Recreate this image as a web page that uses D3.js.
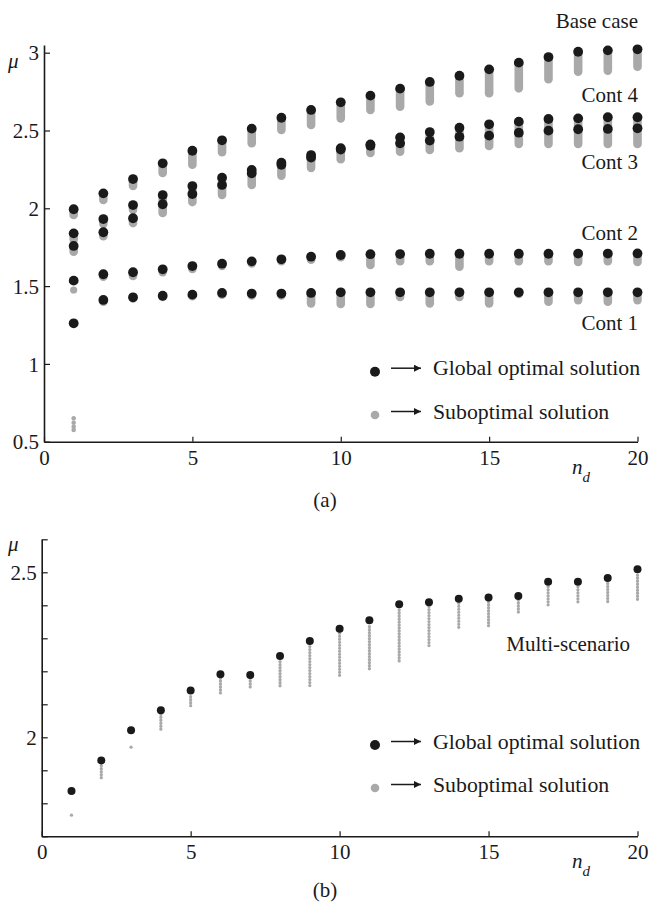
<!DOCTYPE html>
<html>
<head>
<meta charset="utf-8">
<script src="https://cdn.jsdelivr.net/npm/d3@7"></script>
<style>
  body { margin: 0; background: #fff; }
  svg text { font-family: "Liberation Serif", "Times New Roman", "DejaVu Serif", serif; fill: #1a1a1a; }
</style>
</head>
<body>
<div id="chart"></div>
<script>
// ==== Data ====
const nd = [1, 2, 3, 4, 5, 6, 7, 8, 9, 10, 11, 12, 13, 14, 15, 16, 17, 18, 19, 20];

// (a) global optimal values per contingency, and lowest suboptimal value below each
const baseCase    = [1.994, 2.096, 2.188, 2.289, 2.370, 2.437, 2.512, 2.582, 2.632, 2.681, 2.724, 2.769, 2.812, 2.852, 2.893, 2.936, 2.972, 3.006, 3.015, 3.022];
const baseCaseLow = [1.957, 2.053, 2.143, 2.227, 2.280, 2.360, 2.418, 2.503, 2.535, 2.578, 2.632, 2.653, 2.686, 2.740, 2.740, 2.771, 2.829, 2.878, 2.885, 2.910];
const cont4       = [1.839, 1.931, 2.021, 2.085, 2.143, 2.197, 2.246, 2.293, 2.342, 2.386, 2.411, 2.456, 2.490, 2.518, 2.540, 2.557, 2.574, 2.578, 2.585, 2.585];
const cont4Low    = [1.800, 1.900, 1.990, 2.050, 2.110, 2.170, 2.220, 2.270, 2.310, 2.360, 2.390, 2.420, 2.440, 2.470, 2.480, 2.500, 2.510, 2.520, 2.520, 2.530];
const cont3       = [1.758, 1.846, 1.936, 2.026, 2.092, 2.150, 2.225, 2.280, 2.326, 2.378, 2.402, 2.418, 2.435, 2.460, 2.467, 2.486, 2.499, 2.508, 2.510, 2.514];
const cont3Low    = [1.721, 1.820, 1.905, 1.970, 2.040, 2.085, 2.150, 2.210, 2.260, 2.315, 2.355, 2.364, 2.375, 2.386, 2.400, 2.413, 2.413, 2.413, 2.413, 2.413];
const cont2       = [1.535, 1.576, 1.589, 1.608, 1.629, 1.644, 1.659, 1.672, 1.689, 1.700, 1.705, 1.706, 1.708, 1.708, 1.708, 1.708, 1.708, 1.709, 1.709, 1.710];
const cont2Low    = [1.535, 1.560, 1.565, 1.590, 1.610, 1.630, 1.645, 1.660, 1.670, 1.685, 1.636, 1.660, 1.660, 1.625, 1.660, 1.660, 1.660, 1.655, 1.660, 1.655];
const cont1       = [1.261, 1.411, 1.428, 1.438, 1.445, 1.456, 1.452, 1.452, 1.456, 1.460, 1.460, 1.460, 1.460, 1.460, 1.460, 1.460, 1.460, 1.460, 1.460, 1.460];
const cont1Low    = [1.261, 1.400, 1.420, 1.430, 1.435, 1.445, 1.440, 1.440, 1.389, 1.385, 1.385, 1.430, 1.389, 1.430, 1.389, 1.450, 1.400, 1.410, 1.400, 1.410];
// isolated suboptimal points at nd = 1
const looseSub = [1.475];
const tinySub  = [0.650, 0.622, 0.596, 0.575];

// (b) multi-scenario
const multiOpt   = [1.837, 1.930, 2.021, 2.082, 2.142, 2.191, 2.189, 2.246, 2.292, 2.329, 2.355, 2.403, 2.409, 2.420, 2.424, 2.428, 2.471, 2.471, 2.483, 2.509];
const multiSubHi = [1.764, 1.914, 1.970, 2.070, 2.123, 2.180, 2.180, 2.229, 2.275, 2.315, 2.335, 2.386, 2.396, 2.406, 2.411, 2.416, 2.456, 2.456, 2.466, 2.491];
const multiSubLo = [1.764, 1.874, 1.970, 2.017, 2.090, 2.130, 2.152, 2.152, 2.153, 2.184, 2.204, 2.224, 2.277, 2.327, 2.337, 2.371, 2.398, 2.403, 2.406, 2.411];

const seriesA = [
  {name: "Base case", opt: baseCase, low: baseCaseLow},
  {name: "Cont 4", opt: cont4, low: cont4Low},
  {name: "Cont 3", opt: cont3, low: cont3Low},
  {name: "Cont 2", opt: cont2, low: cont2Low},
  {name: "Cont 1", opt: cont1, low: cont1Low}
];
const labelsA = [
  {text: "Base case", y: 28},
  {text: "Cont 4", y: 102},
  {text: "Cont 3", y: 169},
  {text: "Cont 2", y: 240},
  {text: "Cont 1", y: 330}
];

const xTicks = [0, 5, 10, 15, 20];
const yTicksA = [0.5, 1, 1.5, 2, 2.5, 3];
const yTicksB = [1.7, 1.8, 1.9, 2, 2.1, 2.2, 2.3, 2.4, 2.5, 2.6];

const black = "#1a1a1a", grey = "#a9a9a9";
const width = 650, height = 907;

const svg = d3.select("#chart").append("svg")
  .attr("width", width).attr("height", height);

svg.append("defs").append("marker")
  .attr("id", "arrow")
  .attr("viewBox", "0 0 10 10")
  .attr("refX", 10).attr("refY", 5)
  .attr("markerWidth", 9).attr("markerHeight", 7)
  .attr("markerUnits", "userSpaceOnUse")
  .attr("orient", "auto")
  .append("path").attr("d", "M0,0L10,5L0,10Z").attr("fill", black);

function drawAxes(g, x, y, yTicks, yLabelled, axisY) {
  const ax = g.append("g")
    .attr("transform", `translate(0,${axisY})`)
    .call(d3.axisBottom(x).tickValues(xTicks).tickSize(-5).tickSizeOuter(0).tickPadding(8).tickFormat(d3.format("d")));
  const ay = g.append("g")
    .attr("transform", `translate(${x.range()[0]},0)`)
    .call(d3.axisLeft(y).tickValues(yTicks).tickSize(-6).tickSizeOuter(0).tickPadding(5)
      .tickFormat(d => yLabelled.includes(d) ? d3.format("")(d) : ""));
  [ax, ay].forEach(a => {
    a.attr("font-family", null);
    a.select(".domain").attr("stroke", black).attr("stroke-width", 1.6);
    a.selectAll(".tick line").attr("stroke", black).attr("stroke-width", 1.2);
    a.selectAll(".tick text").attr("font-size", 21).attr("fill", black);
  });
  ax.selectAll(".tick text").attr("dy", "0.72em");
  ay.selectAll(".tick text").attr("dy", "0.34em");
}

function drawLegend(g, cy1, cy2) {
  const rows = [
    {label: "Global optimal solution", color: black, r: 5, cy: cy1},
    {label: "Suboptimal solution", color: grey, r: 4.3, cy: cy2}
  ];
  const row = g.selectAll(".leg").data(rows).join("g").attr("class", "leg");
  row.append("circle").attr("cx", 375).attr("cy", d => d.cy).attr("r", d => d.r).attr("fill", d => d.color);
  row.append("line")
    .attr("x1", 391).attr("x2", 421)
    .attr("y1", d => d.cy - 3.5).attr("y2", d => d.cy - 3.5)
    .attr("stroke", black).attr("stroke-width", 1.5)
    .attr("marker-end", "url(#arrow)");
  row.append("text").attr("x", 433).attr("y", d => d.cy + 3.5)
    .attr("font-size", 21.8).text(d => d.label);
}

function axisTitles(g, x, axisY, muY) {
  g.append("text").attr("x", 8).attr("y", muY)
    .attr("font-size", 21).attr("font-style", "italic").text("μ");
  const t = g.append("text").attr("x", 572).attr("y", axisY + 32)
    .attr("font-size", 21).attr("font-style", "italic");
  t.append("tspan").text("n");
  t.append("tspan").attr("font-size", 15).attr("dy", 8).text("d");
}

// ==== Chart (a) ====
const ga = svg.append("g");
const xa = d3.scaleLinear().domain([0, 20]).range([44, 637.5]);
const ya = d3.scaleLinear().domain([0.5, 3]).range([441.7, 52.7]);
const yaTop = ya(3.05);

drawAxes(ga, xa, ya.copy().domain([0.5, 3.05]).range([441.7, yaTop]), yTicksA, yTicksA, 441.7);

// suboptimal spread (grey, behind)
seriesA.forEach(s => {
  ga.append("g").selectAll("line")
    .data(nd.map((n, i) => ({n, hi: s.opt[i], lo: s.low[i]})))
    .join("line")
    .attr("x1", d => xa(d.n)).attr("x2", d => xa(d.n))
    .attr("y1", d => ya(d.hi)).attr("y2", d => ya(d.lo))
    .attr("stroke", grey).attr("stroke-width", 8.6).attr("stroke-linecap", "round");
});
ga.append("g").selectAll("circle").data(looseSub).join("circle")
  .attr("cx", xa(1)).attr("cy", d => ya(d)).attr("r", 3.6).attr("fill", grey);
ga.append("g").selectAll("circle").data(tinySub).join("circle")
  .attr("cx", xa(1)).attr("cy", d => ya(d)).attr("r", 2.3).attr("fill", grey);

// global optimum (black)
seriesA.forEach(s => {
  ga.append("g").selectAll("circle")
    .data(nd.map((n, i) => ({n, v: s.opt[i]})))
    .join("circle")
    .attr("cx", d => xa(d.n)).attr("cy", d => ya(d.v))
    .attr("r", 4.9).attr("fill", black);
});

ga.selectAll(".slabel").data(labelsA).join("text")
  .attr("class", "slabel")
  .attr("x", 638).attr("y", d => d.y)
  .attr("text-anchor", "end").attr("font-size", 21)
  .text(d => d.text);

drawLegend(ga, 371.7, 415);
axisTitles(ga, xa, 441.7, 68);

ga.append("text").attr("x", 325).attr("y", 507)
  .attr("text-anchor", "middle").attr("font-size", 21).text("(a)");

// ==== Chart (b) ====
const gb = svg.append("g");
const xb = d3.scaleLinear().domain([0, 20]).range([41.7, 637.5]);
const yb = d3.scaleLinear().domain([1.7, 2.6]).range([836.3, 539.3]);

drawAxes(gb, xb, yb, yTicksB, [2, 2.5], 836.3);

gb.append("g").selectAll("line")
  .data(nd.map((n, i) => ({n, hi: multiSubHi[i], lo: multiSubLo[i]})))
  .join("line")
  .attr("x1", d => xb(d.n)).attr("x2", d => xb(d.n))
  .attr("y1", d => yb(d.hi)).attr("y2", d => yb(d.lo) + 0.01)
  .attr("stroke", grey).attr("stroke-width", 3.3)
  .attr("stroke-linecap", "round").attr("stroke-dasharray", "0 3");

gb.append("g").selectAll("circle")
  .data(nd.map((n, i) => ({n, v: multiOpt[i]})))
  .join("circle")
  .attr("cx", d => xb(d.n)).attr("cy", d => yb(d.v))
  .attr("r", 4).attr("fill", black);

gb.append("text").attr("x", 630).attr("y", 651)
  .attr("text-anchor", "end").attr("font-size", 21).text("Multi-scenario");

drawLegend(gb, 745, 788);
axisTitles(gb, xb, 836.3, 551);

gb.append("text").attr("x", 325).attr("y", 897)
  .attr("text-anchor", "middle").attr("font-size", 21).text("(b)");
</script>
</body>
</html>
